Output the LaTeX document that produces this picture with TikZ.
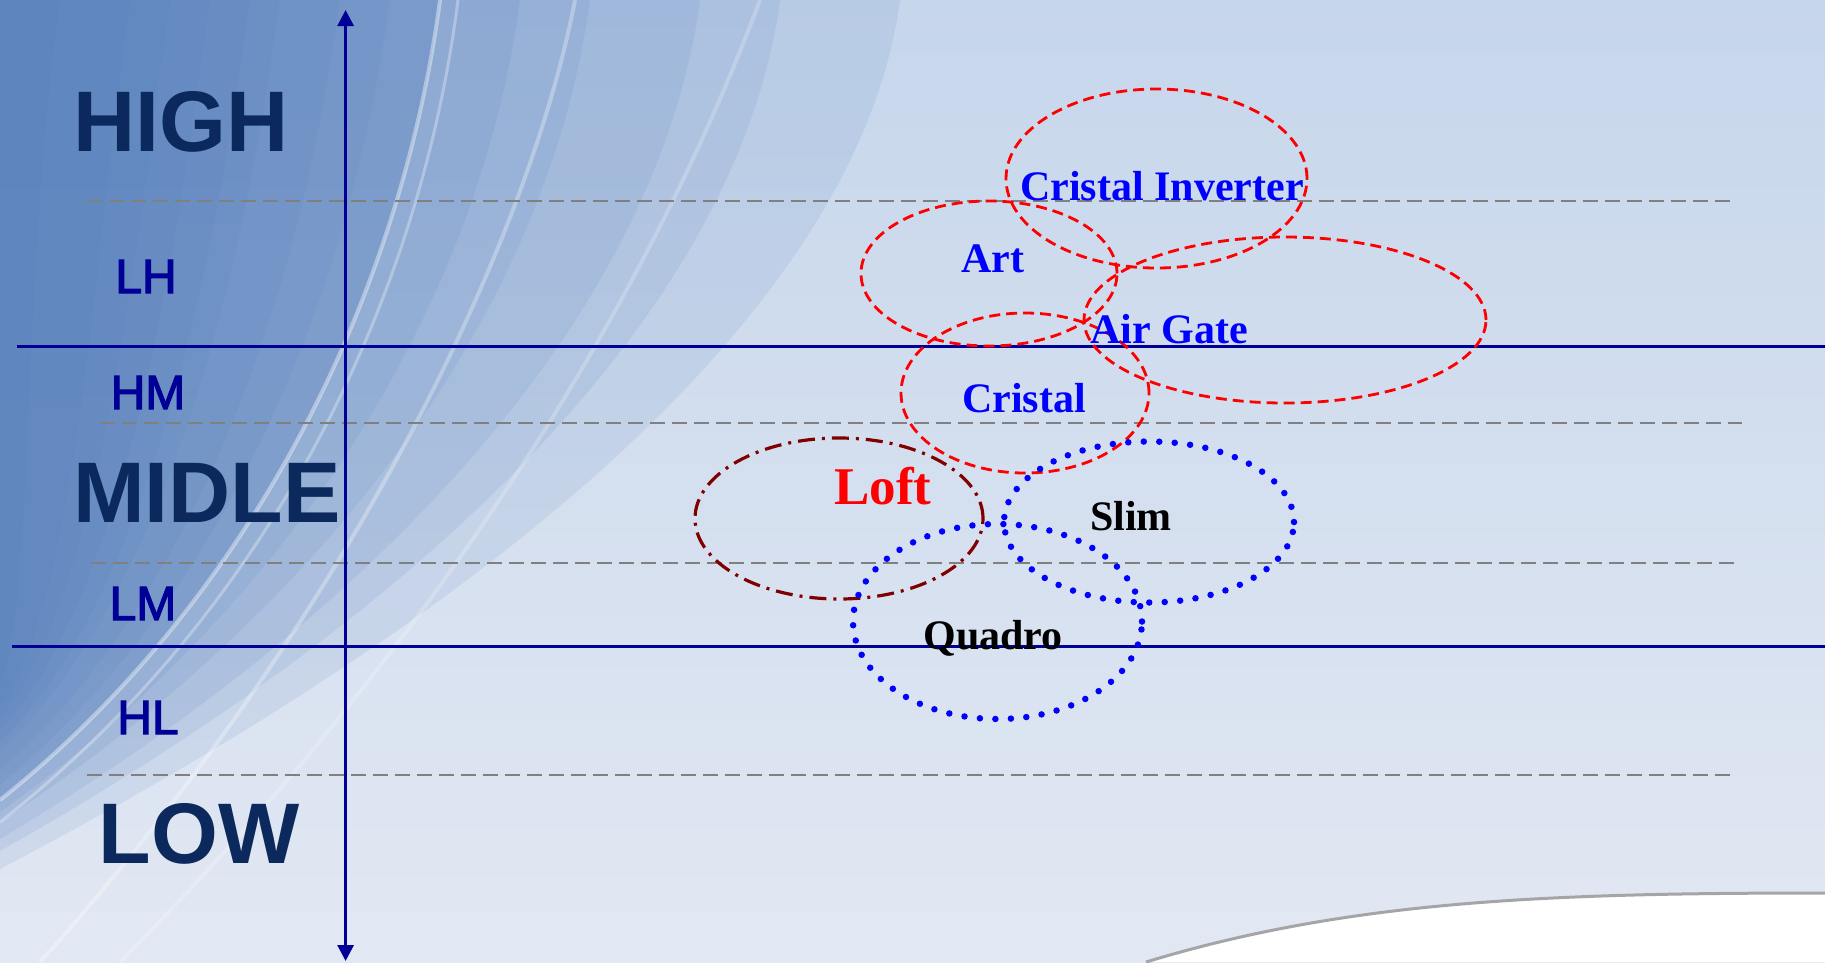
\documentclass[tikz,border=0pt]{standalone}
\usepackage{fontspec}
\setmainfont{Liberation Serif}
\newfontfamily\tiersans{Liberation Sans}
\newfontfamily\tierlight[FakeBold=2.5]{Liberation Sans}
\usetikzlibrary{arrows.meta,shapes.geometric}
\definecolor{axisblue}{RGB}{0,0,150}
\definecolor{tiernavy}{RGB}{11,41,92}
\definecolor{guidegray}{RGB}{128,128,128}
\definecolor{ringred}{RGB}{255,0,0}
\definecolor{loftred}{RGB}{128,0,0}
\definecolor{dotblue}{RGB}{0,0,255}
\definecolor{bgtop}{RGB}{198,214,235}
\definecolor{bgbot}{RGB}{226,232,243}
\definecolor{bgdark}{RGB}{84,126,188}
\definecolor{curvegray}{RGB}{165,165,168}
\tikzset{
  axisline/.style={draw=axisblue, line width=3pt},
  guideline/.style={draw=guidegray, line width=2pt, dash pattern=on 15pt off 7pt},
  bigtier/.style={font=\tiersans\bfseries\fontsize{86}{90}\selectfont, text=tiernavy, inner sep=0pt, anchor=base},
  subtier/.style={font=\tierlight\fontsize{48}{52}\selectfont, text=axisblue, inner sep=0pt, anchor=base},
  ring/.style={ellipse, inner sep=0pt, outer sep=0pt},
  redring/.style={ring, draw=ringred, line width=2.8pt, dash pattern=on 11pt off 6pt},
  loftring/.style={ring, draw=loftred, line width=3.2pt, dash pattern=on 17pt off 7pt on 3pt off 7pt},
  bluering/.style={ring, draw=dotblue, line width=6.5pt, line cap=round, dash pattern=on 0pt off 15.5pt},
  prodlabel/.style={font=\bfseries\fontsize{42}{46}\selectfont, inner sep=0pt, anchor=base},
  darkfade/.style={fill=bgdark, fill opacity=0.12},
  axtip/.tip={Triangle[width=16pt,length=16pt]}
}
\begin{document}
\begin{tikzpicture}[x=1pt,y=-1pt]
\useasboundingbox (0,0) rectangle (1825,962);
% background
\shade[top color=bgtop, bottom color=bgbot] (0,0) rectangle (1825,962);
\foreach \a/\e in {60/686,130/707,170/719,210/731,250/743,280/752,340/770,390/785,440/800,440/800,440/800,520/812,590/822,700/839,780/851,900/869} {
  \path[darkfade] (0,0) -- (\a,0) .. controls ({\a-40},300) and ({0.57*\a},600) .. (0,\e) -- cycle;
}
\draw[white, opacity=0.40, line width=4pt] (440,0) .. controls (400,300) and (250,600) .. (0,800);
\draw[white, opacity=0.30, line width=3pt] (458,0) .. controls (420,300) and (270,610) .. (0,822);
\draw[white, opacity=0.30, line width=4pt] (575,0) .. controls (525,260) and (330,640) .. (40,962);
\draw[white, opacity=0.22, line width=4pt] (760,0) .. controls (640,320) and (420,660) .. (120,962);
\fill[white] (1146,962) .. controls (1350,900) and (1550,893) .. (1825,893) -- (1825,962) -- cycle;
\draw[curvegray, line width=3pt] (1146,962) .. controls (1350,900) and (1550,893) .. (1825,893);

% guide coordinates
\coordinate (g1a) at (86.5,201); \coordinate (g1b) at (1731,201);
\coordinate (g2a) at (99.5,423); \coordinate (g2b) at (1742,423);
\coordinate (g3a) at (91,563);   \coordinate (g3b) at (1734,563);
\coordinate (g4a) at (86.5,775); \coordinate (g4b) at (1731,775);
\coordinate (h1a) at (17,346);   \coordinate (h1b) at (1825,346);
\coordinate (h2a) at (11.5,646); \coordinate (h2b) at (1825,646);
\coordinate (axtop) at (345.6,10); \coordinate (axbot) at (345.6,961);

\draw[guideline] (g1a) -- (g1b);
\draw[guideline] (g2a) -- (g2b);
\draw[guideline] (g3a) -- (g3b);
\draw[guideline] (g4a) -- (g4b);
\draw[axisline] (h1a) -- (h1b);
\draw[axisline] (h2a) -- (h2b);
\draw[axisline, axtip-axtip] (axbot) -- (axtop);

% tier labels
\node[bigtier] (high) at (181,151) {HIGH};
\node[bigtier] (midle) at (207,522) {MIDLE};
\node[bigtier] (low) at (199,863) {LOW};
\node[subtier] (lh) at (146,293) {LH};
\node[subtier] (hm) at (148,409) {HM};
\node[subtier] (lm) at (143,620) {LM};
\node[subtier] (hl) at (148,734) {HL};

% rings
\node[redring, minimum width=301pt, minimum height=179pt] (eci) at (1156.5,178.5) {};
\node[redring, minimum width=256pt, minimum height=145pt] (eart) at (989,273.5) {};
\node[redring, minimum width=402pt, minimum height=166pt] (eair) at (1285,320) {};
\node[redring, minimum width=248pt, minimum height=160pt] (ecr) at (1025,393) {};
\node[loftring, minimum width=288pt, minimum height=161pt] (eloft) at (839,518.5) {};
\node[bluering, minimum width=290pt, minimum height=161pt] (eslim) at (1149,522) {};
\node[bluering, minimum width=289pt, minimum height=195pt] (equad) at (997.5,621.5) {};

% product labels
\node[prodlabel, text=dotblue] (tci) at (1162,200) {Cristal Inverter};
\node[prodlabel, text=dotblue] (tart) at (993,272) {Art};
\node[prodlabel, text=dotblue] (tair) at (1169,343) {Air Gate};
\node[prodlabel, text=dotblue] (tcr) at (1024,412) {Cristal};
\node[prodlabel, text=ringred, font=\bfseries\fontsize{53}{57}\selectfont] (tloft) at (883,504) {Loft};
\node[prodlabel, text=black] (tslim) at (1131,530.5) {Slim};
\node[prodlabel, text=black] (tquad) at (993,649) {Quadro};
\end{tikzpicture}
\end{document}
